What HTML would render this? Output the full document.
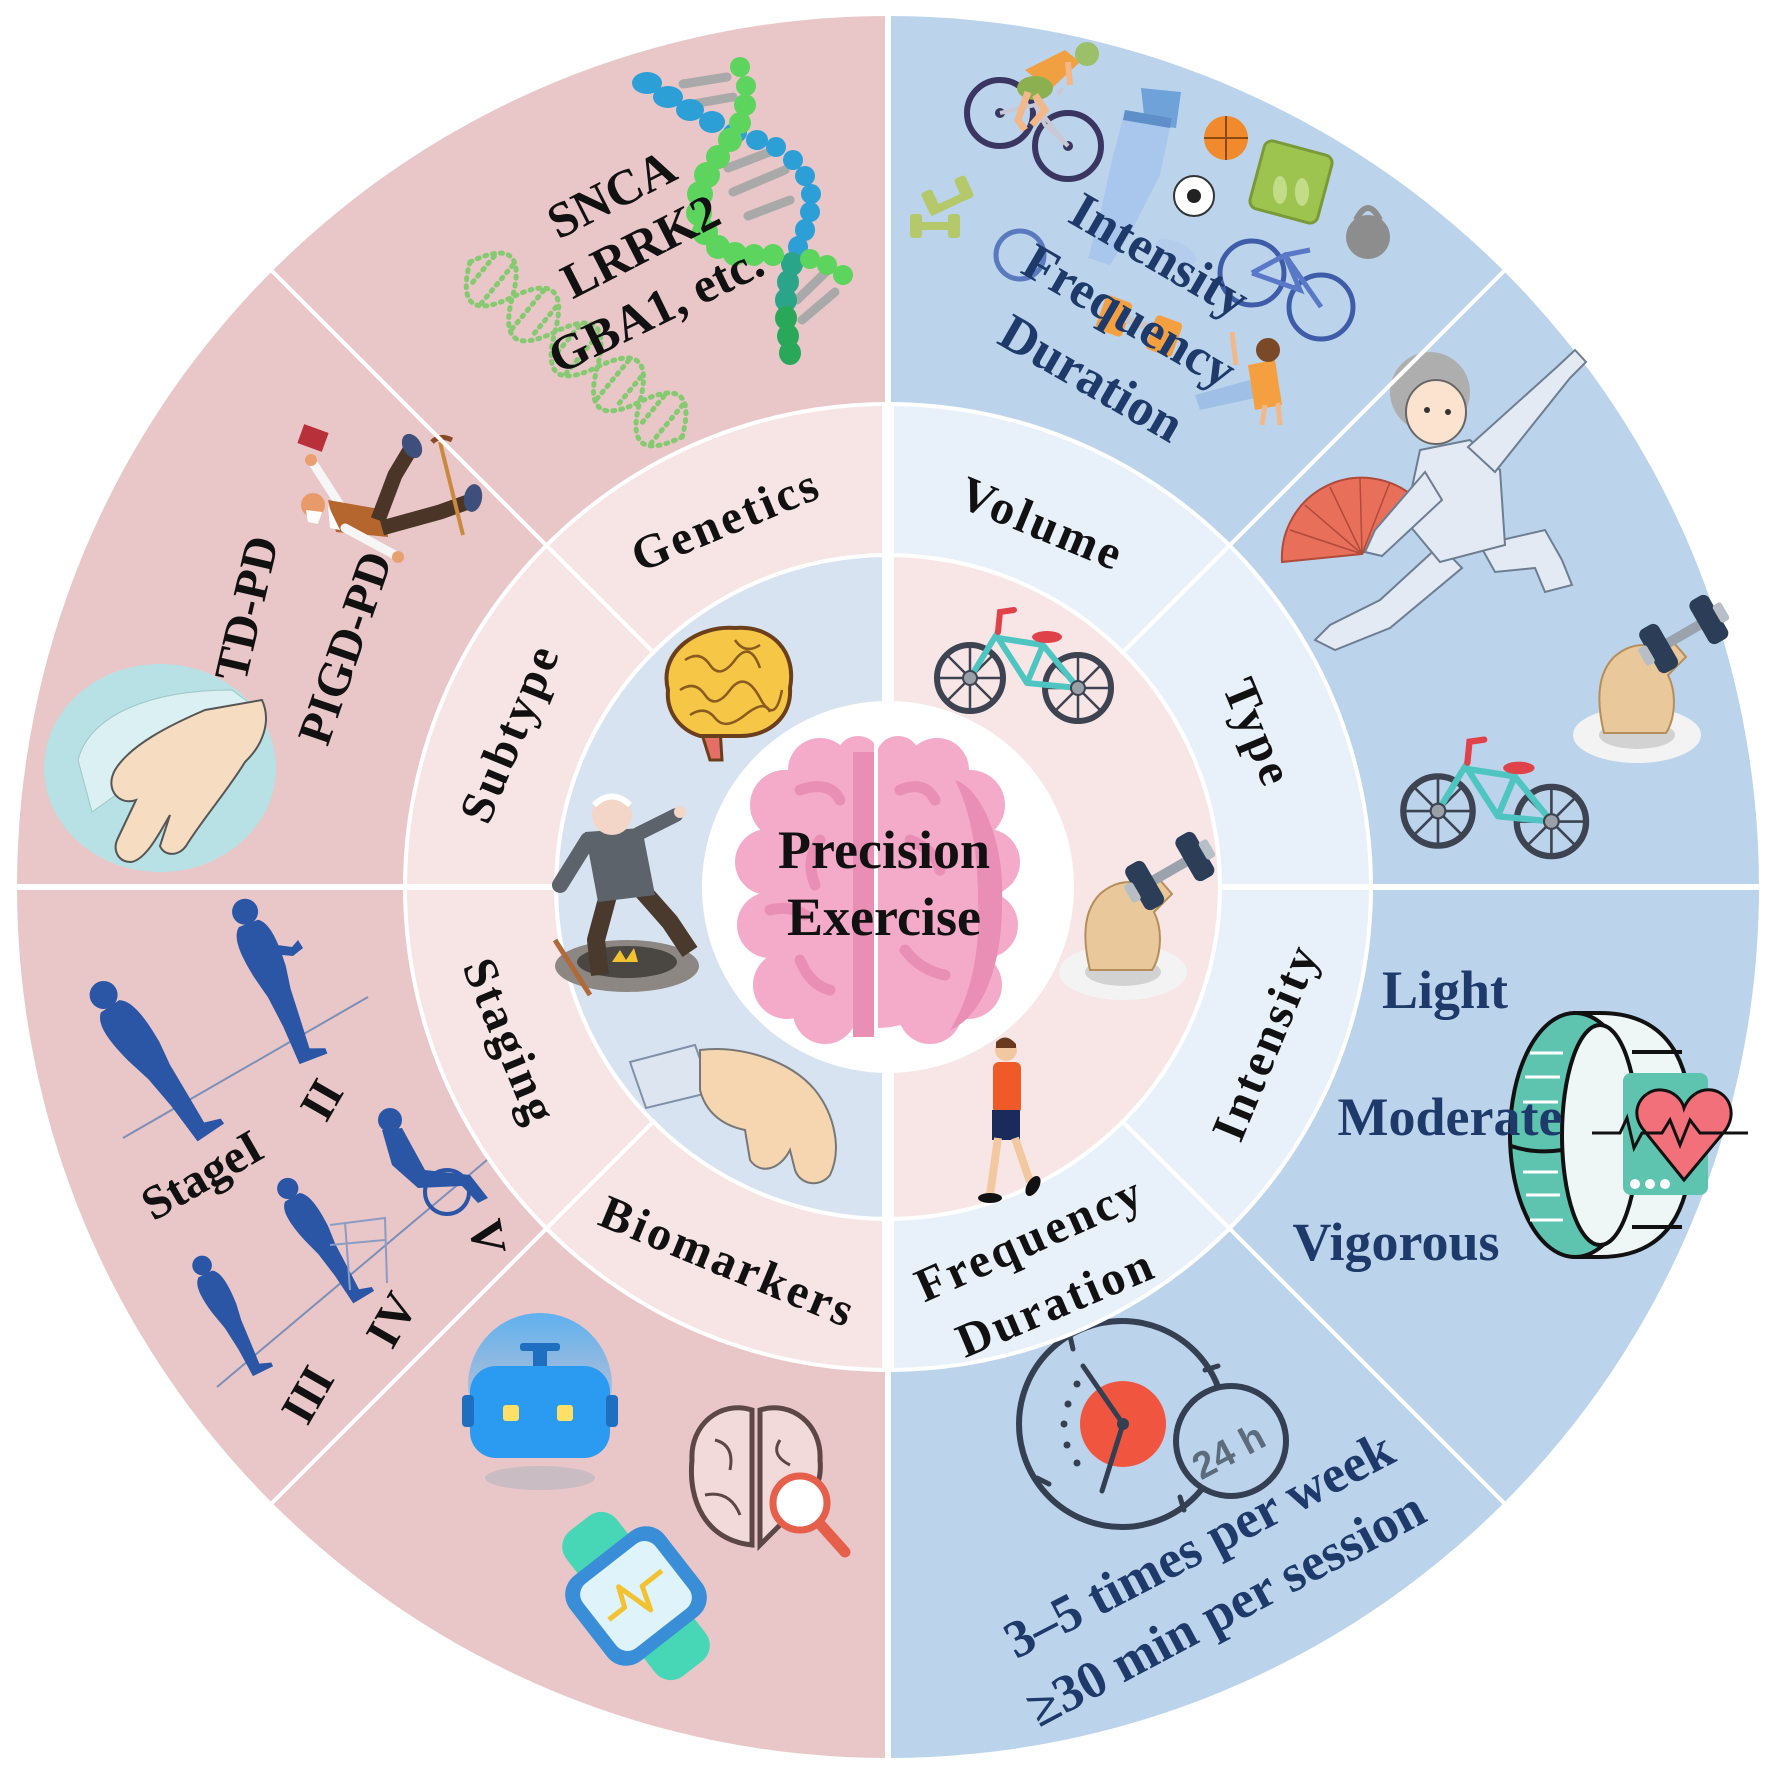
<!DOCTYPE html>
<html><head><meta charset="utf-8"><style>
html,body{margin:0;padding:0;background:#fff;}
svg{display:block;}
text{font-family:"Liberation Serif","Times New Roman",serif;font-weight:bold;}
</style></head><body>
<svg width="1772" height="1777" viewBox="0 0 1772 1777" xmlns="http://www.w3.org/2000/svg">
<defs>
 <linearGradient id="halo" x1="0" y1="0" x2="0" y2="1">
  <stop offset="0" stop-color="#5fb1ef"/><stop offset="1" stop-color="#e9c7c8"/>
 </linearGradient>
 <g id="bike">
  <g fill="none" stroke="#3d4350" stroke-width="6">
   <circle cx="0" cy="0" r="33"/><circle cx="108" cy="10" r="33"/>
  </g>
  <g stroke="#3d4350" stroke-width="2.5">
   <line x1="-31" y1="0" x2="31" y2="0"/><line x1="0" y1="-31" x2="0" y2="31"/>
   <line x1="-22" y1="-22" x2="22" y2="22"/><line x1="-22" y1="22" x2="22" y2="-22"/>
   <line x1="77" y1="10" x2="139" y2="10"/><line x1="108" y1="-21" x2="108" y2="41"/>
   <line x1="86" y1="-12" x2="130" y2="32"/><line x1="86" y1="32" x2="130" y2="-12"/>
  </g>
  <g stroke="#4fc5c2" stroke-width="6" fill="none" stroke-linecap="round" stroke-linejoin="round">
   <path d="M0,0 L28,-46 M28,-40 L57,5 L108,10 L73,-33 L57,5 M28,-40 L73,-33"/>
  </g>
  <circle cx="0" cy="0" r="7" fill="#9aa0a8" stroke="#3d4350" stroke-width="2"/>
  <circle cx="108" cy="10" r="7" fill="#9aa0a8" stroke="#3d4350" stroke-width="2"/>
  <path d="M28,-46 L30,-66 L44,-68" stroke="#e0424a" stroke-width="6" fill="none" stroke-linecap="round"/>
  <ellipse cx="77" cy="-41" rx="15" ry="6" fill="#e0424a"/>
 </g>
 <g id="dbarm">
  <ellipse cx="55" cy="140" rx="64" ry="28" fill="#f3f3f3"/>
  <ellipse cx="55" cy="140" rx="38" ry="14" fill="#d2d2d2"/>
  <path d="M22,138 C14,105 16,78 32,62 C48,48 68,46 78,58 L92,48 L104,62 L86,80 C96,100 92,126 84,138 Z" fill="#e9c99b" stroke="#b58e5c" stroke-width="2"/>
  <g transform="rotate(-30 100 40)">
   <rect x="82" y="35" width="40" height="10" fill="#9aa3ad"/>
   <rect x="62" y="15" width="22" height="50" rx="7" fill="#2c3d57"/>
   <rect x="120" y="15" width="22" height="50" rx="7" fill="#2c3d57"/>
   <rect x="54" y="30" width="10" height="20" rx="3" fill="#b8bec6"/>
   <rect x="140" y="30" width="10" height="20" rx="3" fill="#b8bec6"/>
  </g>
 </g>
 <g id="person">
  <circle cx="2" cy="-170" r="14"/>
  <path d="M-10,-157 L12,-157 C22,-150 24,-130 22,-100 L18,-75 L16,-40 L14,-8 L30,-2 L30,4 L-2,4 L-4,-40 L-8,-75 L-14,-100 C-20,-130 -20,-150 -10,-157 Z"/>
 </g>
</defs>
<rect width="1772" height="1777" fill="#fff"/>

<!-- OUTER RING -->
<path d="M888,16 A871,871 0 0 0 888,1758 Z" fill="#e9c7c8"/>
<path d="M888,16 A871,871 0 0 1 888,1758 Z" fill="#bbd4eb"/>

<!-- ===== Outer icons: Genetics ===== -->
<g fill="none" stroke="#80ca6d" stroke-width="5" stroke-dasharray="2 6" stroke-linecap="round" opacity="0.95" transform="translate(470,262) rotate(39.5)">
 <path d="M0,0 Q27.5,60 55,0 T110,0 T165,0 T220,0 T275,0"/>
 <path d="M0,0 Q27.5,-60 55,0 T110,0 T165,0 T220,0 T275,0"/>
 <path d="M15,-20 V20 M35,-25 V25 M75,-25 V25 M95,-20 V20 M125,-20 V20 M145,-25 V25 M185,-25 V25 M205,-20 V20 M235,-20 V20 M255,-25 V25"/>
</g>
<g stroke="#a9a9a9" stroke-width="9" stroke-linecap="round">
 <line x1="683" y1="84" x2="727" y2="77"/><line x1="693" y1="104" x2="733" y2="97"/>
 <line x1="728" y1="168" x2="775" y2="150"/><line x1="733" y1="192" x2="785" y2="170"/>
 <line x1="748" y1="216" x2="790" y2="200"/>
 <line x1="797" y1="300" x2="828" y2="270"/><line x1="802" y1="320" x2="835" y2="292"/>
</g>
<g fill="#2b9fd6">
 <ellipse cx="647" cy="83" rx="15" ry="11"/><ellipse cx="668" cy="97" rx="15" ry="11"/>
 <ellipse cx="690" cy="110" rx="14" ry="11"/><ellipse cx="712" cy="122" rx="13" ry="11"/>
 <ellipse cx="735" cy="133" rx="12" ry="10"/><ellipse cx="757" cy="140" rx="11" ry="10"/>
 <ellipse cx="776" cy="147" rx="10" ry="10"/><ellipse cx="793" cy="160" rx="10" ry="10"/>
 <ellipse cx="805" cy="176" rx="10" ry="10"/><ellipse cx="811" cy="194" rx="10" ry="10"/>
 <ellipse cx="810" cy="212" rx="10" ry="10"/><ellipse cx="805" cy="230" rx="10" ry="11"/>
 <ellipse cx="798" cy="247" rx="10" ry="11"/>
</g>
<g fill="#2aa58a">
 <ellipse cx="792" cy="264" rx="11" ry="12"/><ellipse cx="788" cy="282" rx="11" ry="12"/>
 <ellipse cx="786" cy="300" rx="11" ry="12"/>
</g>
<g fill="#2aa85a">
 <ellipse cx="786" cy="318" rx="11" ry="12"/><ellipse cx="788" cy="336" rx="11" ry="12"/>
 <ellipse cx="790" cy="353" rx="11" ry="12"/>
</g>
<g fill="#5cd45e">
 <circle cx="740" cy="67" r="10"/><circle cx="746" cy="86" r="10"/><circle cx="745" cy="105" r="11"/>
 <circle cx="740" cy="123" r="11"/><circle cx="730" cy="140" r="12"/><circle cx="718" cy="157" r="12"/>
 <circle cx="707" cy="175" r="13"/><circle cx="700" cy="194" r="13"/><circle cx="699" cy="213" r="13"/>
 <circle cx="705" cy="232" r="13"/><circle cx="718" cy="247" r="12"/><circle cx="735" cy="254" r="12"/>
 <circle cx="754" cy="255" r="11"/><circle cx="773" cy="255" r="11"/><circle cx="810" cy="259" r="10"/>
 <circle cx="827" cy="265" r="10"/><circle cx="843" cy="275" r="10"/>
</g>

<!-- Subtype: falling man -->
<g>
 <rect x="300" y="428" width="26" height="20" fill="#b8303a" transform="rotate(20 313 438)"/>
 <line x1="340" y1="505" x2="313" y2="463" stroke="#f6f6f6" stroke-width="9" stroke-linecap="round"/>
 <circle cx="311" cy="460" r="6" fill="#e8a070"/>
 <path d="M328,500 L385,510 L388,537 L336,532 Z" fill="#b5652e"/>
 <path d="M328,505 L340,530 L330,528 Z" fill="#fff"/>
 <circle cx="313" cy="505" r="12" fill="#e89a6a"/>
 <path d="M306,510 L322,512 L318,524 L308,522 Z" fill="#fff"/>
 <line x1="345" y1="528" x2="395" y2="555" stroke="#f6f6f6" stroke-width="9" stroke-linecap="round"/>
 <circle cx="398" cy="557" r="6" fill="#e8a070"/>
 <path d="M378,520 L395,475 L410,450" stroke="#4a3527" stroke-width="15" fill="none" stroke-linejoin="round"/>
 <path d="M382,528 L440,512 L468,502" stroke="#4a3527" stroke-width="15" fill="none" stroke-linejoin="round"/>
 <ellipse cx="412" cy="446" rx="9" ry="13" fill="#3d4f7a" transform="rotate(-30 412 446)"/>
 <ellipse cx="473" cy="498" rx="9" ry="14" fill="#3d4f7a" transform="rotate(10 473 498)"/>
 <line x1="440" y1="442" x2="463" y2="535" stroke="#c98a40" stroke-width="4"/>
 <path d="M432,442 Q440,434 452,440" stroke="#8a4a2a" stroke-width="5" fill="none"/>
</g>
<!-- tremor hand -->
<ellipse cx="160" cy="768" rx="116" ry="104" fill="#b7e1e5"/>
<path d="M78,760 C90,715 150,690 232,690 L248,702 C200,722 150,752 120,792 L92,812 Z" fill="#ffffff" opacity="0.5" stroke="#8aa" stroke-width="1"/>
<path d="M262,700 C272,722 262,746 245,762 C228,790 202,820 186,846 C178,857 164,856 160,846 L170,815 C160,832 146,860 131,862 C118,862 112,850 118,838 L136,800 C120,806 104,790 115,770 C130,745 170,725 205,710 Z" fill="#f6dcc0" stroke="#555" stroke-width="2"/>

<!-- Staging silhouettes -->
<g stroke="#7b8fb8" stroke-width="2">
 <line x1="123" y1="1138" x2="368" y2="997"/>
 <line x1="217" y1="1387" x2="487" y2="1160"/>
</g>
<g fill="#2b56a6">
 <use href="#person" transform="translate(197,1137) rotate(-34)"/>
 <use href="#person" transform="translate(300,1060) rotate(-21) scale(0.93)"/>
 <path d="M248,941 L292,947 L298,940 L303,948 L293,956 L250,952 Z"/>
 <use href="#person" transform="translate(353,1300) rotate(-31) scale(0.76)"/>
 <use href="#person" transform="translate(253,1373) rotate(-26) scale(0.7)"/>
 <circle cx="390" cy="1120" r="12"/>
 <path d="M382,1130 L402,1128 L425,1170 L470,1175 L488,1198 L478,1203 L462,1186 L418,1188 L392,1165 Z"/>
</g>
<circle cx="447" cy="1192" r="22" fill="none" stroke="#2b56a6" stroke-width="4"/>
<g stroke="#8a9cc4" stroke-width="2" fill="none">
 <path d="M330,1225 L385,1218 L387,1283 M345,1222 L350,1290 M330,1245 L385,1240"/>
</g>

<!-- Biomarkers: robot, brain, watch -->
<circle cx="540" cy="1385" r="72" fill="url(#halo)"/>
<ellipse cx="540" cy="1478" rx="55" ry="12" fill="#c9bcc2"/>
<rect x="533" y="1348" width="14" height="20" fill="#1f6fc0"/>
<rect x="520" y="1343" width="40" height="8" rx="3" fill="#1f6fc0"/>
<rect x="470" y="1366" width="140" height="92" rx="26" fill="#2a9bf0"/>
<rect x="462" y="1395" width="12" height="32" rx="4" fill="#1f6fc0"/>
<rect x="606" y="1395" width="12" height="32" rx="4" fill="#1f6fc0"/>
<rect x="503" y="1405" width="16" height="16" rx="3" fill="#ffe066"/>
<rect x="557" y="1405" width="16" height="16" rx="3" fill="#ffe066"/>
<g fill="#f3dada" stroke="#5c4646" stroke-width="5">
 <path d="M752,1410 C720,1400 690,1425 692,1460 C688,1500 705,1540 752,1545 Z"/>
 <path d="M760,1410 C792,1400 822,1425 820,1460 C822,1480 815,1490 810,1495 L760,1545 Z"/>
</g>
<g fill="none" stroke="#5c4646" stroke-width="3">
 <path d="M715,1440 Q735,1445 730,1470 M705,1495 Q730,1490 740,1515 M780,1440 Q770,1455 790,1465"/>
</g>
<circle cx="800" cy="1503" r="27" fill="#fff" stroke="#e55f4a" stroke-width="7"/>
<line x1="820" y1="1524" x2="845" y2="1552" stroke="#e55f4a" stroke-width="11" stroke-linecap="round"/>
<g transform="translate(636,1596) rotate(-38)">
 <rect x="-32" y="-92" width="64" height="184" rx="20" fill="#47d6b6"/>
 <rect x="-60" y="-54" width="120" height="108" rx="24" fill="#3a8ed8"/>
 <rect x="-46" y="-41" width="92" height="82" rx="14" fill="#dff3fb"/>
 <polyline points="-36,2 -16,2 -8,-18 3,20 11,-4 36,-4" fill="none" stroke="#f2c230" stroke-width="5" stroke-linejoin="round"/>
</g>

<!-- ===== Right outer icons ===== -->
<!-- cyclist -->
<g>
 <g fill="none" stroke="#3b3561" stroke-width="6">
  <circle cx="1000" cy="113" r="33"/><circle cx="1068" cy="146" r="33"/>
 </g>
 <circle cx="1000" cy="113" r="5" fill="#3b3561"/><circle cx="1068" cy="146" r="5" fill="#3b3561"/>
 <path d="M1000,113 L1035,105 L1068,146 M1035,105 L1045,125 L1068,146 M1058,95 L1062,88" stroke="#c9c9d6" stroke-width="4" fill="none"/>
 <path d="M1025,70 L1065,50 L1080,62 L1050,90 Z" fill="#f0a040"/>
 <ellipse cx="1035" cy="88" rx="18" ry="12" fill="#8cb050"/>
 <path d="M1035,95 L1045,110 L1032,125" stroke="#f2b88a" stroke-width="7" fill="none"/>
 <path d="M1028,92 L1018,120 L1025,130" stroke="#f2b88a" stroke-width="7" fill="none"/>
 <path d="M1068,62 L1070,85" stroke="#f2b88a" stroke-width="6"/>
 <circle cx="1087" cy="54" r="12" fill="#9cbf6a"/>
</g>
<path d="M1141,88 L1181,92 L1176,128 L1145,124 Z" fill="#6fa2d8"/>
<path d="M1125,110 L1172,118 L1160,175 L1132,230 L1110,265 L1088,258 L1100,215 L1112,160 Z" fill="#a9c6ec"/>
<path d="M1125,110 L1172,118 L1170,128 L1123,120 Z" fill="#5f8fc8"/>
<circle cx="1226" cy="138" r="22" fill="#f08a2c"/>
<path d="M1204,138 H1248 M1226,116 V160" stroke="#8a4a10" stroke-width="2"/>
<circle cx="1194" cy="196" r="20" fill="#fff" stroke="#333" stroke-width="2"/>
<circle cx="1194" cy="196" r="7" fill="#222"/>
<rect x="1256" y="147" width="70" height="70" rx="8" fill="#9dc44f" stroke="#7a9a3a" stroke-width="3" transform="rotate(15 1291 182)"/>
<ellipse cx="1280" cy="190" rx="7" ry="14" fill="#c2dc88"/><ellipse cx="1302" cy="192" rx="7" ry="14" fill="#c2dc88"/>
<circle cx="1368" cy="237" r="22" fill="#8d8d8d"/>
<path d="M1356,220 Q1368,196 1380,220" stroke="#8d8d8d" stroke-width="6" fill="none"/>
<g fill="#b5c96a">
 <rect x="928" y="200" width="40" height="8" transform="rotate(-25 948 204)"/>
 <rect x="925" y="190" width="12" height="24" rx="3" transform="rotate(-25 931 202)"/>
 <rect x="958" y="176" width="12" height="24" rx="3" transform="rotate(-25 964 188)"/>
 <rect x="915" y="222" width="40" height="8"/>
 <rect x="910" y="214" width="12" height="24" rx="3"/>
 <rect x="948" y="214" width="12" height="24" rx="3"/>
</g>
<circle cx="1020" cy="255" r="24" fill="none" stroke="#5a7ac0" stroke-width="5"/>
<g fill="none" stroke="#3e5ca8" stroke-width="5">
 <circle cx="1252" cy="273" r="32"/><circle cx="1321" cy="307" r="32"/>
 <path d="M1252,273 L1285,255 L1321,307 M1285,255 L1300,290 L1252,273 M1285,255 L1310,250" stroke="#5a78c8"/>
</g>
<ellipse cx="1176" cy="252" rx="22" ry="10" fill="#b5cdec" transform="rotate(25 1176 252)"/>
<g fill="#f5a040">
 <rect x="1100" y="298" width="28" height="36" rx="4" transform="rotate(20 1114 316)"/>
 <rect x="1150" y="318" width="28" height="36" rx="4" transform="rotate(20 1164 336)"/>
 <rect x="1125" y="320" width="30" height="8" fill="#c8c8c8" transform="rotate(20 1140 324)"/>
</g>
<g>
 <path d="M1195,395 L1250,380 L1255,398 L1200,410 Z" fill="#9fbfe6"/>
 <path d="M1248,365 L1275,360 L1282,405 L1255,410 Z" fill="#f5a040"/>
 <circle cx="1268" cy="350" r="12" fill="#7a4a28"/>
 <path d="M1265,405 L1262,425 M1278,403 L1280,425" stroke="#f2b88a" stroke-width="5"/>
 <path d="M1232,332 L1236,365" stroke="#f2b88a" stroke-width="5"/>
</g>

<!-- tai chi woman -->
<path d="M1362,554 L1282,562 A80,80 0 0 1 1414,497 Z" fill="#e8705a" stroke="#b04a3a" stroke-width="2"/>
<g stroke="#b04a3a" stroke-width="1.5">
 <line x1="1362" y1="554" x2="1290" y2="530"/><line x1="1362" y1="554" x2="1305" y2="505"/>
 <line x1="1362" y1="554" x2="1330" y2="487"/><line x1="1362" y1="554" x2="1360" y2="478"/>
 <line x1="1362" y1="554" x2="1390" y2="482"/>
</g>
<g fill="#e4eaf3" stroke="#6d7d92" stroke-width="2">
 <path d="M1440,545 L1380,600 L1330,625 L1315,640 L1335,650 L1390,628 L1462,568 Z"/>
 <path d="M1480,545 L1545,530 L1562,560 L1572,585 L1545,592 L1535,568 L1495,572 Z"/>
 <path d="M1420,450 L1470,440 L1500,470 L1505,545 L1440,562 L1405,520 Z"/>
 <path d="M1468,447 L1558,366 L1575,350 L1586,362 L1570,378 L1495,472 Z"/>
 <path d="M1425,472 L1375,530 L1365,552 L1382,556 L1442,500 Z"/>
</g>
<circle cx="1430" cy="392" r="40" fill="#aeaeae"/>
<ellipse cx="1436" cy="412" rx="30" ry="32" fill="#fbe3d0" stroke="#666" stroke-width="2"/>
<circle cx="1427" cy="410" r="3" fill="#333"/><circle cx="1448" cy="412" r="3" fill="#333"/>

<use href="#dbarm" transform="translate(1582,595)"/>
<use href="#bike" transform="translate(1438,811) scale(1.05)"/>

<!-- fitness band -->
<path d="M1575,1013 L1600,1013 C1680,1013 1692,1080 1692,1135 C1692,1190 1680,1257 1600,1257 L1575,1257 Z" fill="#eff7f6" stroke="#111" stroke-width="4"/>
<path d="M1632,1052 H1682 M1632,1227 H1682" stroke="#111" stroke-width="4"/>
<ellipse cx="1575" cy="1135" rx="65" ry="122" fill="#5ec4b0" stroke="#111" stroke-width="4"/>
<ellipse cx="1600" cy="1135" rx="38" ry="110" fill="#eff7f6" stroke="#111" stroke-width="4"/>
<path d="M1511,1146 Q1535,1154 1562,1150" stroke="#111" stroke-width="4" fill="none"/>
<g stroke="#fff" stroke-width="3"><line x1="1530" y1="1053" x2="1563" y2="1053"/><line x1="1525" y1="1077" x2="1560" y2="1077"/><line x1="1523" y1="1102" x2="1558" y2="1102"/><line x1="1523" y1="1172" x2="1558" y2="1172"/><line x1="1526" y1="1195" x2="1560" y2="1195"/><line x1="1530" y1="1220" x2="1563" y2="1220"/></g>
<rect x="1623" y="1073" width="85" height="122" rx="8" fill="#5ec4b0"/>
<g fill="#fff"><circle cx="1635" cy="1184" r="5"/><circle cx="1650" cy="1184" r="5"/><circle cx="1665" cy="1184" r="5"/></g>
<path d="M1684,1180 L1642,1128 C1628,1108 1645,1088 1662,1090 C1674,1091 1682,1100 1684,1108 C1688,1098 1698,1088 1712,1090 C1730,1093 1738,1115 1724,1132 Z" fill="#f2707a" stroke="#111" stroke-width="3"/>
<polyline points="1592,1133 1620,1133 1627,1118 1634,1148 1642,1133 1662,1133 1670,1120 1680,1145 1690,1120 1700,1133 1748,1133" fill="none" stroke="#111" stroke-width="3"/>

<!-- clock -->
<circle cx="1122" cy="1424" r="103" fill="none" stroke="#343f52" stroke-width="6"/>
<circle cx="1123" cy="1424" r="43" fill="#f0553f"/>
<g stroke="#343f52" stroke-width="5" stroke-linecap="round">
 <line x1="1070" y1="1336" x2="1073" y2="1349"/><line x1="1205" y1="1370" x2="1218" y2="1366"/>
 <line x1="1037" y1="1478" x2="1049" y2="1484"/><line x1="1180" y1="1497" x2="1184" y2="1510"/>
 <line x1="1123" y1="1424" x2="1083" y2="1366"/><line x1="1123" y1="1424" x2="1102" y2="1491"/>
</g>
<g fill="#343f52"><circle cx="1077" cy="1384" r="3.5"/><circle cx="1068" cy="1404" r="3.5"/><circle cx="1064" cy="1424" r="3.5"/><circle cx="1067" cy="1445" r="3.5"/><circle cx="1077" cy="1463" r="3.5"/><circle cx="1123" cy="1424" r="6"/></g>
<circle cx="1231" cy="1441" r="55" fill="#bbd4eb" stroke="#343f52" stroke-width="6"/>
<text x="0" y="0" transform="translate(1229,1452) rotate(-28)" text-anchor="middle" dominant-baseline="central" style="font-family:'Liberation Sans',sans-serif;font-weight:bold" font-size="38" fill="#5c6c7c">24 h</text>

<!-- MIDDLE RING -->
<circle cx="888" cy="887" r="485" fill="#fff"/>
<path d="M888,406 A481,481 0 0 0 888,1368 Z" fill="#f7e4e5"/>
<path d="M888,406 A481,481 0 0 1 888,1368 Z" fill="#e8f0fa"/>
<!-- INNER RING -->
<circle cx="888" cy="887" r="334" fill="#fff"/>
<path d="M888,557 A330,330 0 0 0 888,1217 Z" fill="#d8e3f2"/>
<path d="M888,557 A330,330 0 0 1 888,1217 Z" fill="#f8e6e7"/>
<circle cx="888" cy="887" r="186" fill="#fff"/>

<!-- dividers -->
<g stroke="#fff">
 <line x1="888" y1="0" x2="888" y2="1777" stroke-width="6"/>
 <line x1="888" y1="402" x2="888" y2="1372" stroke-width="12"/>
 <line x1="0" y1="887" x2="556" y2="887" stroke-width="6"/>
 <line x1="1220" y1="887" x2="1772" y2="887" stroke-width="6"/>
 <g stroke-width="4">
  <line x1="1121" y1="654" x2="1508" y2="267"/>
  <line x1="655" y1="654" x2="268" y2="267"/>
  <line x1="655" y1="1120" x2="268" y2="1507"/>
  <line x1="1121" y1="1120" x2="1508" y2="1507"/>
 </g>
</g>

<!-- Inner left icons -->
<path d="M700,728 L710,760 L722,760 L720,728 Z" fill="#e36f66" stroke="#6b3f1c" stroke-width="3"/>
<path d="M668,690 C658,650 700,625 735,628 C772,625 797,652 790,688 C792,716 770,736 740,736 L700,736 C680,730 666,712 668,690 Z" fill="#f6c646" stroke="#6b3f1c" stroke-width="4"/>
<g fill="none" stroke="#8a5a20" stroke-width="2.5">
 <path d="M685,660 Q700,650 710,665 T735,660 T760,668"/><path d="M680,690 Q695,680 705,695 T730,690 T760,698 T782,690"/>
 <path d="M690,715 Q705,705 715,718 T745,715 T770,712"/><path d="M735,640 Q745,655 760,645"/>
</g>
<ellipse cx="627" cy="966" rx="72" ry="26" fill="#8c8782"/>
<ellipse cx="627" cy="962" rx="50" ry="16" fill="#4a4642"/>
<path d="M612,962 L620,950 L626,960 L634,948 L638,962 Z" fill="#f2c230"/>
<path d="M610,888 L596,940 L600,975 M640,888 L670,922 L690,952" stroke="#4a3a2e" stroke-width="18" fill="none" stroke-linejoin="round"/>
<path d="M585,832 L642,828 L655,895 L598,902 Z" fill="#5d636b"/>
<path d="M588,840 L560,885" stroke="#5d636b" stroke-width="16" stroke-linecap="round"/>
<path d="M638,834 L676,815" stroke="#5d636b" stroke-width="14" stroke-linecap="round"/>
<circle cx="680" cy="812" r="6" fill="#f3d6c8"/>
<circle cx="612" cy="815" r="20" fill="#f3d6c8"/>
<path d="M594,805 Q612,788 630,805" stroke="#fff" stroke-width="6" fill="none"/>
<line x1="555" y1="940" x2="590" y2="995" stroke="#b06a3a" stroke-width="5"/>
<path d="M630,1062 L695,1045 L712,1092 L646,1108 Z" fill="#dde6f0" stroke="#8090a8" stroke-width="2"/>
<path d="M700,1050 C740,1045 790,1060 815,1090 C835,1115 842,1150 830,1175 C820,1188 800,1185 795,1170 L790,1150 C780,1170 760,1175 750,1160 L745,1130 C720,1125 705,1110 700,1090 Z" fill="#f5d6b0" stroke="#777" stroke-width="2"/>

<!-- Inner right icons -->
<use href="#bike" transform="translate(970,678)"/>
<use href="#dbarm" transform="translate(1068,832)"/>
<g>
 <circle cx="1006" cy="1050" r="11" fill="#f2c8a0"/>
 <path d="M996,1042 Q1006,1032 1016,1044 L1016,1048 L996,1048 Z" fill="#6a3a1e"/>
 <rect x="993" y="1062" width="28" height="52" rx="6" fill="#f05a28"/>
 <rect x="992" y="1110" width="28" height="30" fill="#1a2a5a"/>
 <path d="M998,1138 L990,1195 M1015,1138 L1030,1182" stroke="#f2c8a0" stroke-width="8"/>
 <ellipse cx="990" cy="1198" rx="12" ry="5" fill="#111"/>
 <ellipse cx="1033" cy="1186" rx="6" ry="11" fill="#111" transform="rotate(30 1033 1186)"/>
</g>

<!-- Center brain -->
<g fill="#f4abc9">
 <ellipse cx="877" cy="893" rx="112" ry="135"/>
 <circle cx="820" cy="770" r="32"/><circle cx="858" cy="758" r="22"/><circle cx="898" cy="758" r="22"/><circle cx="937" cy="770" r="32"/>
 <circle cx="785" cy="805" r="35"/><circle cx="970" cy="805" r="35"/>
 <circle cx="768" cy="862" r="33"/><circle cx="987" cy="862" r="33"/>
 <circle cx="770" cy="925" r="33"/><circle cx="985" cy="925" r="33"/>
 <circle cx="787" cy="985" r="34"/><circle cx="968" cy="985" r="34"/>
 <circle cx="825" cy="1012" r="32"/><circle cx="930" cy="1012" r="32"/>
</g>
<g fill="#e98fb5">
 <rect x="853" y="752" width="22" height="285"/>
 <path d="M955,780 C985,790 1005,850 1002,900 C1003,960 985,1015 950,1030 C975,990 980,940 978,900 C978,850 970,810 955,780 Z"/>
</g>
<g fill="none" stroke="#e98fb5" stroke-width="11" stroke-linecap="round">
 <path d="M800,790 Q830,780 840,800"/><path d="M820,840 Q805,860 815,885"/>
 <path d="M770,910 Q790,905 805,915"/><path d="M800,960 Q810,985 830,990"/>
 <path d="M900,790 Q925,780 935,800"/><path d="M910,840 Q935,850 940,870"/>
 <path d="M905,950 Q920,970 945,975"/>
</g>
<line x1="876" y1="740" x2="876" y2="1048" stroke="#fff" stroke-width="4"/>

<!-- TEXT -->
<g fill="#111" font-size="54" text-anchor="middle">
 <text x="884" y="868">Precision</text>
 <text x="884" y="935">Exercise</text>
</g>
<g fill="#111" font-size="48" text-anchor="middle" dominant-baseline="central" letter-spacing="3">
 <text transform="translate(726,520) rotate(-22.5)">Genetics</text>
 <text transform="translate(1042,524) rotate(22.5)">Volume</text>
 <text transform="translate(510,733) rotate(-67.5)">Subtype</text>
 <text transform="translate(1258,733) rotate(67.5)">Type</text>
 <text transform="translate(510,1042) rotate(67.5)">Staging</text>
 <text transform="translate(1266,1042) rotate(-67.5)">Intensity</text>
 <text transform="translate(728,1262) rotate(22.5)">Biomarkers</text>
</g>
<g fill="#111" font-size="48" text-anchor="middle" letter-spacing="3">
 <text transform="translate(1036,1253) rotate(-24)">Frequency</text>
 <text transform="translate(1062,1317) rotate(-23)">Duration</text>
</g>
<g fill="#111" font-size="50" text-anchor="middle">
 <text transform="translate(619,209) rotate(-27)">SNCA</text>
 <text transform="translate(648,261) rotate(-27)">LRRK2</text>
 <text transform="translate(663,324) rotate(-26)">GBA1, etc.</text>
</g>
<g fill="#111" font-size="48" text-anchor="middle">
 <text transform="translate(262,612) rotate(-77)">TD-PD</text>
 <text transform="translate(360,653) rotate(-71)">PIGD-PD</text>
 <text transform="translate(210,1189) rotate(-30)">StageI</text>
</g>
<g fill="#111" font-size="48" text-anchor="middle" dominant-baseline="central">
 <text transform="translate(322,1100) rotate(-60)">II</text>
 <text transform="translate(308,1395) rotate(-60)">III</text>
 <text transform="translate(392,1320) rotate(-60)">IV</text>
 <text transform="translate(487,1237) rotate(80)">V</text>
</g>
<g fill="#1e3a6b" font-size="52" text-anchor="middle">
 <text transform="translate(1151,270) rotate(30)">Intensity</text>
 <text transform="translate(1121,331) rotate(30)">Frequency</text>
 <text transform="translate(1083,393) rotate(30)">Duration</text>
</g>
<g fill="#1e3a6b" font-size="54" text-anchor="middle">
 <text x="1445" y="1008">Light</text>
 <text x="1450" y="1135">Moderate</text>
 <text x="1396" y="1260">Vigorous</text>
</g>
<g fill="#1e3a6b" font-size="53" text-anchor="middle">
 <text transform="translate(1207,1560) rotate(-27.5)">3–5 times per week</text>
 <text transform="translate(1234,1624) rotate(-28)">≥30 min per session</text>
</g>
</svg>
</body></html>
